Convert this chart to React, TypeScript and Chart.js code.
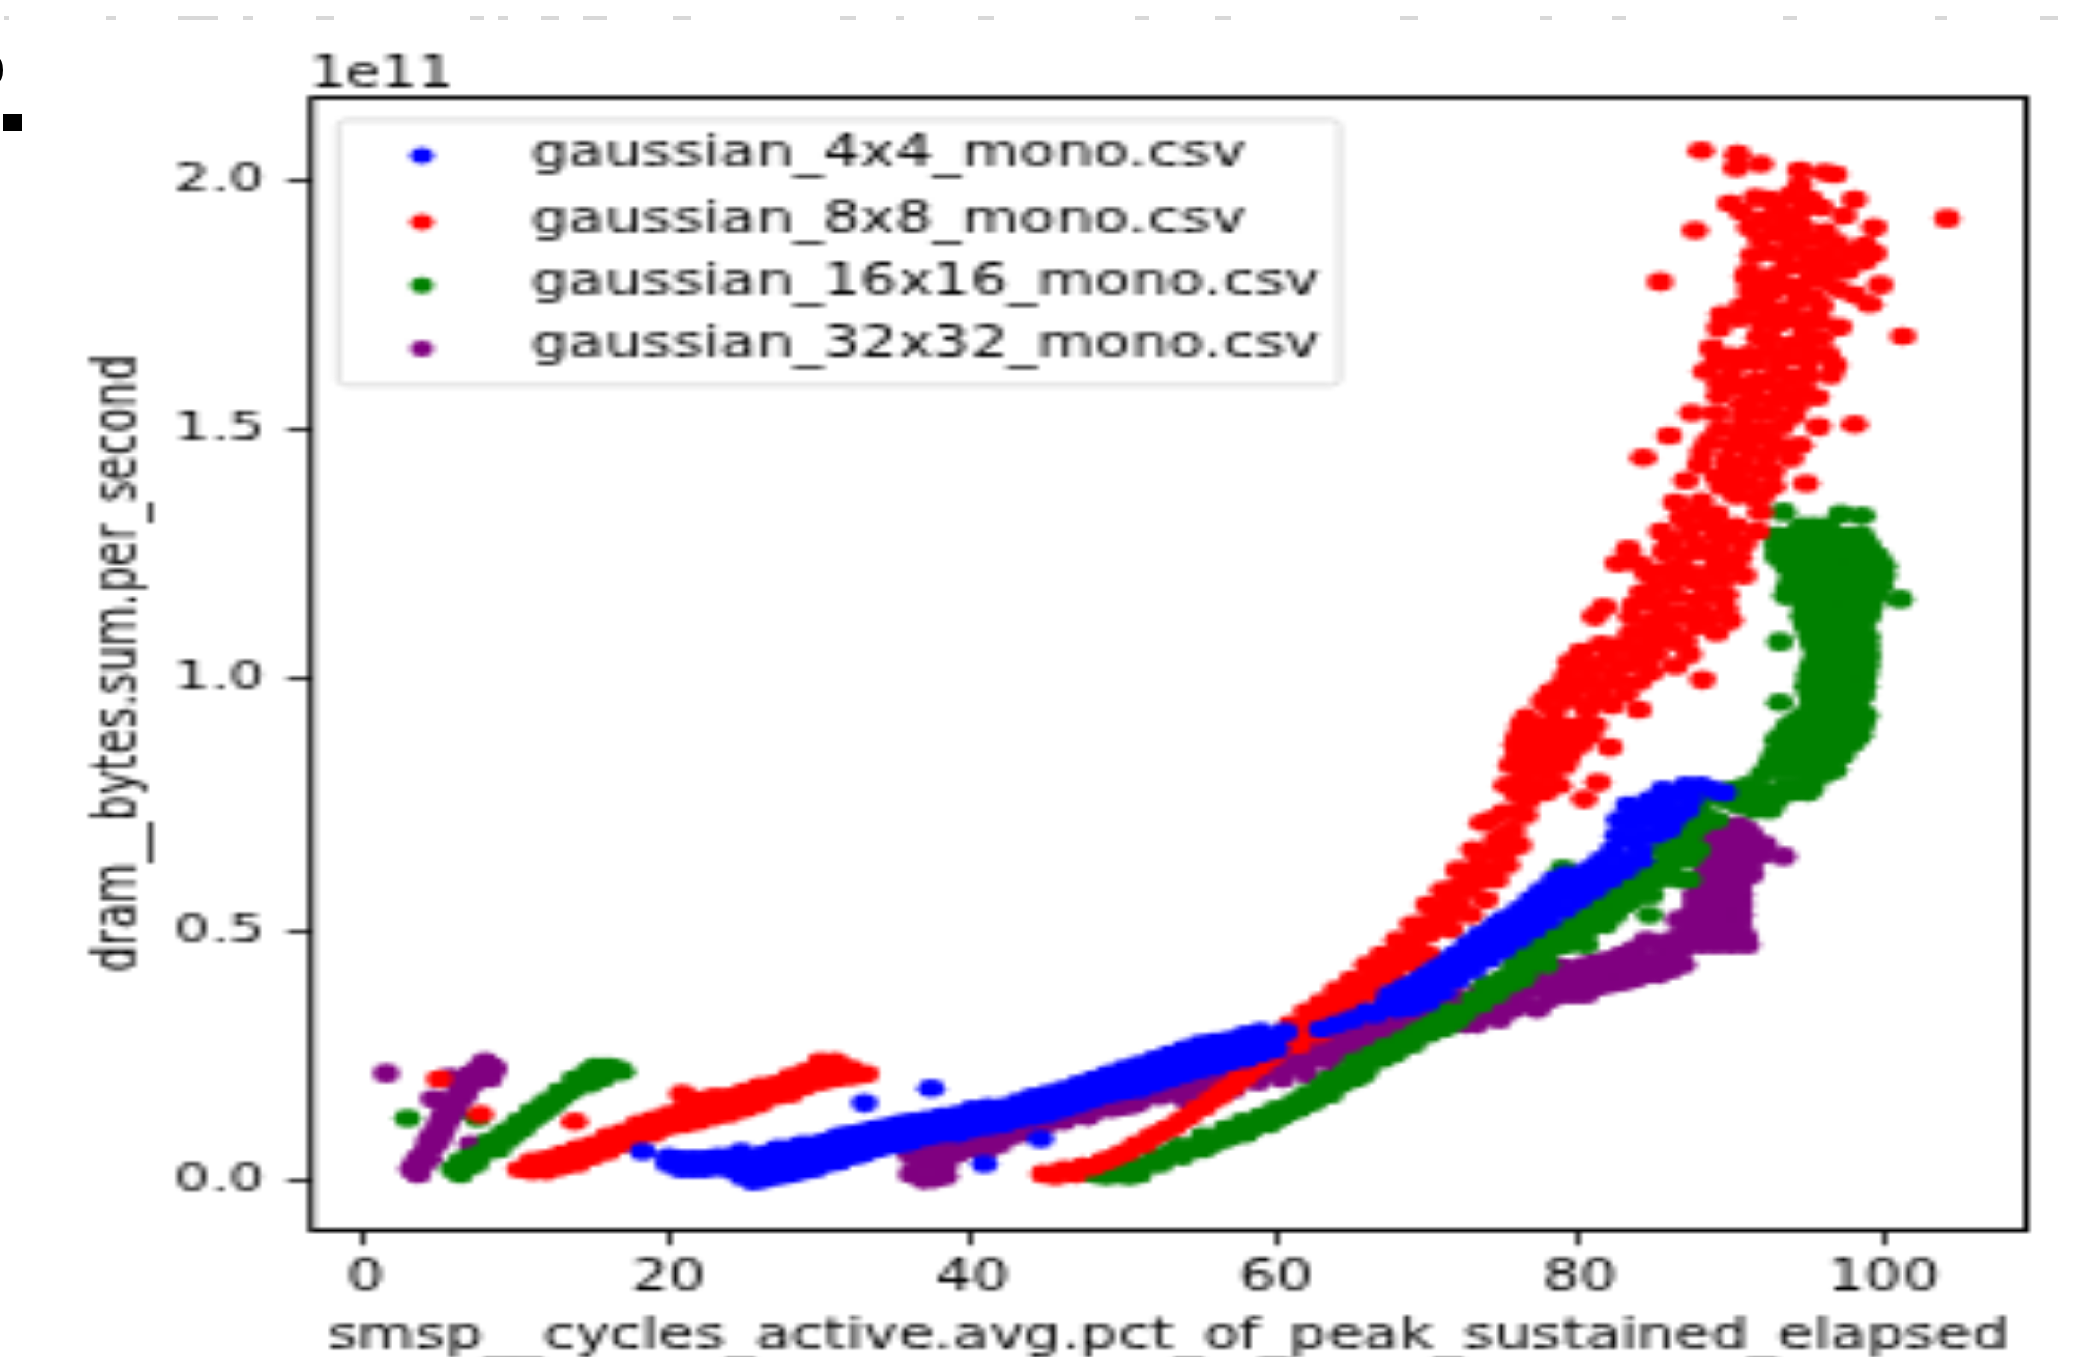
import React, { useEffect, useRef } from "react";
import { Chart, registerables } from "chart.js";

Chart.register(...registerables);

const legendLabels = ["gaussian_4x4_mono.csv", "gaussian_8x8_mono.csv", "gaussian_16x16_mono.csv", "gaussian_32x32_mono.csv"];
const seriesColors = ["#0000ff", "#ff0000", "#008000", "#800080"];
const xTitle = "smsp__cycles_active.avg.pct_of_peak_sustained_elapsed";
const yTitle = "dram__bytes.sum.per_second";
const offsetText = "1e11";

// flat x,y lists; y in units of 1e11
const blueLow = [20,.03,20,.045,20.8,.02,20.8,.04,21.6,.02,21.6,.04,22.4,.02,22.4,.04,23.2,.025,23.2,.045,24,.02,24,.045,24.8,.005,24.8,.03,24.8,.055,25.6,-.005,25.6,.015,25.6,.04,26.4,0,26.4,.02,26.4,.05,27.2,.005,27.2,.03,27.2,.06,28,.01,28,.035,28,.06,28.8,.015,28.8,.04,28.8,.07,29.6,.02,29.6,.045,29.6,.07,30.4,.03,30.4,.055,30.4,.075,31.2,.035,31.2,.06,31.2,.085,32,.045,32,.07,32,.09,32.8,.05,32.8,.075,32.8,.095,33.6,.06,33.6,.085,33.6,.1,34.4,.065,34.4,.09,34.4,.105,35.2,.07,35.2,.095,35.2,.11,36,.075,36,.1,36,.115,37,.085,37,.105,37,.12,38,.09,38,.11,38,.125,39,.09,39,.115,39,.13,40,.1,40,.12,40,.14,41,.105,41,.125,41,.145,42,.11,42,.13,42,.145,43,.12,43,.14,43,.155,44,.125,44,.145,44,.165,45,.13,45,.155,45,.17,46,.14,46,.16,46,.18,47,.15,47,.17,47,.19,48,.16,48,.18,48,.2,49,.17,49,.19,49,.21,50,.175,50,.2,50,.22,51,.18,51,.205,51,.23,52,.19,52,.215,52,.24,53,.2,53,.225,53,.25,54,.21,54,.235,54,.26,55,.22,55,.245,55,.27,56,.225,56,.25,56,.275,57,.235,57,.26,57,.28,58,.24,58,.265,58,.29,59,.25,59,.275,59,.295,60,.26,60,.285,60.6,.295];
const blueHigh = [63,.3,64,.31,65,.32,66,.335,66.5,.33,67.3,.35,68,.34,68,.37,68.8,.36,69,.39,69.8,.37,70,.41,70.6,.39,71,.43,71.5,.41,71.8,.45,72.3,.43,72.6,.47,73.2,.45,73.4,.49,74,.47,74.3,.5,75,.49,75,.52,75.8,.5,76,.54,76.7,.52,76.8,.56,77.4,.54,77.5,.58,78.2,.55,78.3,.6,79,.57,79.1,.61,79.7,.59,80,.61,80.5,.58,80.6,.62,81.3,.6,81.4,.64,82.2,.62,82.2,.66,83,.64,82.5,.69,83.3,.68,84,.66,82.6,.72,83.4,.71,84.3,.69,83.2,.75,84,.74,85,.72,85.8,.7,84.6,.76,85.6,.75,86.4,.73,85.5,.78,86.5,.77,87.3,.76,87,.79,88,.79,88.8,.78,89.5,.775];
const blueFill = [67.5,.37,68.5,.385,69.5,.4,70.5,.42,71.5,.44,72.5,.455,73.5,.47,74.5,.51,75.5,.52,76.5,.54,77.5,.56,78.5,.58,79.5,.6,80.5,.6,81,.62,69,.345,70,.355,71,.375,72,.4,73,.42,74,.44,75,.46,76,.48,77,.5,78,.52,79,.54,80,.56,81,.58,82,.6,83,.62,84,.64,85,.69,86,.71,87,.74,84,.72,85,.74,83.5,.73];
const blueStray = [18.3,.055,32.9,.152,37.3,.182,40.8,.03,44.5,.08];

const redLow = [10.2,.02,11,.015,11,.035,12,.015,12,.04,13,.025,13,.05,14,.03,14,.06,15,.045,15,.07,16,.055,16,.085,17,.07,17,.095,18,.085,18,.11,19,.09,19,.12,20,.105,20,.13,21,.11,21,.14,22,.115,22,.15,23,.125,23,.165,20.9,.17,21.5,.16,24,.13,24,.165,25,.14,25,.175,26,.15,26,.185,27,.165,27,.19,28,.17,28,.205,29,.185,29,.215,30,.195,30,.235,31,.2,31,.225,32,.205,32,.22,33,.21,30,.225,31,.235];
const redLowFill = [11.5,.025,12.5,.03,13.5,.04,14.5,.045,15.5,.06,16.5,.07,17.5,.085,18.5,.1,19.5,.105,20.5,.12,21.5,.125,22.5,.135,23.5,.145,24.5,.155,25.5,.16,26.5,.17,27.5,.18,28.5,.19,29.5,.2,30.5,.215];
const redStray = [27,.05,13.8,.115,4.9,.2,7.6,.13,88,2.064,90.4,2.056,90.3,2.028,91.9,2.036,94.5,2.024,96.1,2.02,96.8,2.016,104.2,1.927,87.6,1.903,85.3,1.8,101.3,1.691,95.7,1.509,98.1,1.514,85.9,1.491,84.2,1.448,94.9,1.395,88.1,1.001,99.4,1.909,99.8,1.794,99.1,1.755,97.1,1.709,98.1,1.965,97.4,1.933,82,.866,81.2,.795,80.3,.762,83.9,.942];
const redRise = [44.7,.01,45.5,.005,46,.02,46.8,.01,47.3,.025,48,.025,48.6,.035,49.2,.04,49.8,.05,50.3,.055,50.8,.07,51.3,.07,51.8,.085,52.3,.09,52.8,.1,53.3,.105,53.8,.12,54.3,.125,54.8,.14,55.3,.145,55.8,.16,56.3,.165,56.6,.18,57.2,.185,57.5,.2,58,.205,58.3,.22,58.9,.225,59.2,.24,59.7,.245,60,.26,60.6,.265,60.8,.285,61.3,.28,61.6,.3,62.1,.3,62.3,.32,62.9,.32,63.2,.34,63.7,.335,64,.36,64.6,.35,64.8,.375,65.3,.37,65.6,.39,66.1,.385,66.3,.41,66.9,.405,67,.43,67.7,.42,67.9,.445,68.5,.44,68.6,.465,69.2,.465,69.3,.49,70,.49,70,.515,70.8,.51,70.7,.54,71.5,.53,71.3,.56,72.1,.55,72,.585,72.8,.58,72.6,.61,73.5,.6,73.3,.63,74.2,.62,74,.655,74.8,.65,74.5,.68,73.6,.715,74.2,.72,75,.69,75.6,.7,75,.735,75.8,.735,76.4,.73,76.6,.76,75.9,.77,75.2,.79,76.2,.8,77,.79,77.7,.775,75.5,.83,76.3,.84,77.2,.82,78,.81,78.6,.79];
const redRiseFill = [59,.26,60,.28,61,.31,62,.335,63,.355,64,.38,65,.4,66,.43,67,.45,68,.48,69,.51,70,.55,71,.58,72,.62,73,.66,61.5,.27,62.8,.29,64,.32,65.3,.345,66.6,.37,67.8,.4,69,.43,70,.45,71.5,.5,72.8,.53,73.8,.56,74.5,.6,75.2,.63,75.3,.66,76,.67];
// each row: y, then the x values at that height
const redNeckRows = [[.83,76,77,78,79],[.85,75.9,77,78.2,79.3],[.87,75.8,76.8,77.8,79,80],[.89,76,77.2,78.4,79.6,80.6],[.91,76.2,77.5,78.8,80,81]];
const redCloudLow = [76.5,.926,78.3,.938,80.5,.942,82.1,.95,77.6,.958,79.6,.966,83,.973,78.1,.977,81.4,.982,83.9,.997,80.1,.993,82.1,1.009,79.2,1.013,84.7,1.017,80.5,1.025,86.3,1.029,83.4,1.033,79.4,1.037,85,1.053,81.9,1.049,87.2,1.053,80.1,1.057,83.2,1.069,86.3,1.077,81.4,1.073,84.5,1.085,89,1.096,83.4,1.096,85.9,1.1,87.6,1.108,84.5,1.112,89.9,1.12,88.5,1.124,86.7,1.132,83.4,1.128,81,1.128,81.6,1.148,89.6,1.144,85.2,1.148,83.6,1.152,87.6,1.16,86.3,1.168,89.6,1.172,84.1,1.176,88.1,1.192,86.3,1.2,89.4,1.203,90.8,1.211,84.5,1.215,87.2,1.215,86.3,1.227,90.1,1.231,83.9,1.235,82.5,1.235,89,1.243,90.5,1.247,87,1.251,85.6,1.259,83.2,1.263,89.2,1.267,87.6,1.275,90.8,1.275,89,1.291,85.4,1.299,87.2,1.299,91.7,1.299];
const redCloudLowFill = [79,.96,81,.96,78.8,.99,80.6,1,82.5,1,81,1.03,82.6,1.03,84.2,1.04,82.5,1.07,85,1.08,83.7,1.06,86.9,1.08,85,1.12,86.2,1.13,88,1.14,84.8,1.16,88.7,1.17,85,1.19,87.6,1.2,85.3,1.22,88.7,1.22,88,1.26,86,1.28,90,1.29];
const redCloudMid = [90.3,1.31,88.3,1.314,86.7,1.326,89,1.334,91.9,1.338,87.6,1.338,86.3,1.358,91.6,1.366,90.3,1.37,89.4,1.39,92.7,1.39,91.2,1.398,87,1.402,90.1,1.414,91.9,1.422,90.7,1.433,87.9,1.433,93.9,1.445,92.3,1.449,91.2,1.461,88.1,1.457,93.4,1.469,94.5,1.473,88.5,1.481,92.5,1.485,90.5,1.489,89.2,1.505,91.9,1.505,90.7,1.509,92.5,1.537,90.7,1.533,89,1.537,87.4,1.537,94.3,1.552,90.7,1.556,92.9,1.56,95.6,1.568,91.6,1.572,89.2,1.572,94.8,1.58,93.2,1.588,89.2,1.596,91.6,1.6,94.1,1.608,96.5,1.612,90,1.616,88.3,1.62,93,1.624,91.6,1.636,96.8,1.632,89,1.64,93.7,1.647,91.2,1.655,96.3,1.655,89.9,1.651,92.5,1.663,95,1.667,88.7,1.667,93.9,1.675,95.9,1.687,92.5,1.687,94.8,1.699];
const redCloudMidFill = [89,1.31,88,1.36,90.3,1.39,92,1.37,89,1.41,92.7,1.42,89.7,1.44,92.8,1.47,89.9,1.47,91.4,1.49,93.3,1.51,94,1.53,91.5,1.54,93.7,1.57,90.5,1.59,92.3,1.6,95,1.61,93,1.65,95,1.64,90.5,1.64,91.8,1.69];
const redCloudTop = [89.2,1.707,93,1.715,95.8,1.72,91.9,1.723,94.3,1.723,90.5,1.727,95.6,1.731,89.4,1.735,92.5,1.743,95.9,1.751,94.3,1.759,91.6,1.759,95.4,1.77,92.5,1.774,98.1,1.774,91.2,1.782,97,1.786,93.6,1.79,96.2,1.802,95.2,1.806,91,1.81,92.9,1.814,96.3,1.822,97.6,1.822,91.2,1.822,95.2,1.83,97,1.838,98.8,1.842,93.4,1.85,91.4,1.854,95,1.854,96.3,1.858,97.9,1.858,99.4,1.858,93.9,1.87,98.8,1.874,97,1.877,91.9,1.885,95.6,1.885,93.4,1.893,91.2,1.909,94.7,1.909,93.6,1.925,92.1,1.925,90.7,1.941,94.5,1.941,95.9,1.949,89.9,1.957,95.2,1.965,92.5,1.965,91.6,1.969,93.9,1.973,94.5,1.993];
const redCloudTopFill = [90.7,1.75,93.5,1.74,94.5,1.79,92.2,1.8,93.8,1.83,96,1.85,92.4,1.86,94.4,1.88,96.2,1.9,92.7,1.9,93,1.95];

const greenLow = [5.8,.02,6.3,.01,6.8,.025,7.3,.03,6.3,.035,6.9,.045,7.7,.05,8.2,.06,8.8,.06,8.2,.075,8.9,.08,9.5,.08,9.2,.095,9.9,.095,10.4,.1,10.1,.115,10.8,.115,11.3,.125,11,.135,11.7,.135,12.2,.145,11.9,.155,12.6,.155,13,.165,12.8,.175,13.5,.175,13.9,.185,13.8,.2,14.5,.2,14.8,.19,14.7,.215,15.4,.21,15.9,.21,15.2,.225,16,.225,16.6,.22,16.9,.215,15.6,.2];
const greenRise = [48,.01,48.8,.005,49.5,.01,50.3,.005,51,.01,48.9,.022,49.8,.025,50.8,.025,51.6,.03,52.4,.03,52,.045,53,.05,53.8,.045,53.5,.065,54.5,.065,55.2,.06,55.2,.085,56,.08,56.6,.08,56.7,.1,57.5,.095,58,.09,57.8,.115,58.6,.11,59,.125,59.8,.12,60,.14,60.8,.135,61.2,.155,62,.15,62,.17,62.8,.165,63,.185,63.6,.17,63.5,.2,64.3,.19,64.6,.215,65.2,.2,65.2,.235,66,.225,66.3,.25,67,.24,67.2,.265,68,.26,68.3,.28,69,.27,69.3,.295,70,.29,70.2,.31,71,.3,71.4,.335,72,.32,73,.36,74,.375,75,.39,73.8,.39,75.6,.42,76.4,.41,77,.435,77.8,.43,76.2,.45,77.2,.47,78,.46,78.8,.47,79,.47,79.8,.48,80.4,.47,78.5,.5,79.5,.51,80.5,.5,81,.53,81.7,.51,82.3,.53,80.5,.53,81.5,.56,82.3,.56,83,.55,83.5,.56,84,.58,84.7,.57,84.6,.53,82.5,.585,83.5,.6,84.5,.6,85.2,.6,84.3,.63,85.2,.63,86,.62,86.6,.6,87.2,.6,85.5,.66,86.4,.65,87.2,.64,86.3,.69,87.2,.68,87.8,.66,87,.72,88,.71,88,.74,89,.72,87.5,.75,88.5,.77,89.5,.76,90.5,.75,91.5,.74,92.5,.74,93,.76,92,.78,91,.79,90,.78,93.5,.79,94.5,.79,95.3,.785,92,.81,93,.82,94,.82,95,.81,96,.81,96.8,.82,92.8,.85,93.7,.85,94.7,.84,95.7,.84,96.8,.85,97.6,.87,93,.88,94,.87,95.2,.87,96.3,.88,97.4,.89,98.4,.89,93.8,.91,94.8,.9,96,.91,97,.91,98,.92,98.8,.93,94.8,.93,96,.94,97,.94,98,.95];
const greenFill = [71.5,.31,72.5,.335,73.5,.35,74.5,.37,75.4,.39,76.2,.4,74.8,.4,75.8,.43,76.8,.44,77.5,.45,78,.48,79,.49,80,.5,80,.52,81,.55,82,.57,81,.51,82.5,.55,83,.58,83.8,.6,84.8,.62,85.8,.64,86.8,.67,87.5,.7,85.5,.62,52.5,.045,54,.055,55.8,.07,57,.085,58.3,.1,59.5,.11,60.4,.125,61.5,.14,62.5,.155,63.3,.17,64.8,.2,65.8,.21,66.8,.25,67.8,.25,68.8,.28,69.8,.3,70.8,.32,93.5,.835,94.5,.83,95.5,.825,96.5,.835,97.3,.85,92.5,.83,93.3,.865,94.5,.855,95.5,.855,96.5,.865,97.2,.875,98,.875,93.5,.895,94.5,.885,95.7,.89,96.7,.895,97.8,.905,98.6,.91,94.3,.92,95.5,.915,96.5,.925,97.5,.93,98.4,.935,95.3,.95,96.5,.955,97.5,.96,98.3,.965,91,.76,92,.76,93,.775,94,.775,95,.775,90.5,.77];
const greenColumnRows = [
  [.97,95.2,96,96.8,97.8,98.6],[.99,95,95.8,96.6,97.5,98.7],[1.01,95.1,96,96.8,97.6,98.8],[1.03,95.3,96.1,97,98,98.9],[1.05,95.6,96.3,97.2,98.2,99],[1.07,95.4,96.2,97,98,98.9],[1.09,95.2,96.2,97.2,98.2,98.9],[1.11,94.9,95.8,96.6,97.6,98.6],[1.13,94.7,95.6,96.4,97.4,98.6,99],[1.15,94.8,95.5,96.4,97.6,98.8,99.2],[1.17,93.6,94.4,95.4,96.4,97.4,98.6,99.5],[1.19,93.8,94.8,95.8,96.8,98,99,99.8],[1.21,94,95,96,97.2,98.4,99.4,100],[1.23,93.6,94.6,95.7,96.7,98,99.2,100],[1.25,93,94.2,95.4,96.5,97.7,98.8,99.6],[1.27,93,93.8,94.8,96,97.2,98.2,99],[1.29,93,93.9,94.8,95.8,97,97.9,98.6],[1.31,94.6,95.4,96.3]
];
const greenStray = [2.8,.122,7.4,.122,93.4,1.338,97.2,1.334,98.6,1.33,101.1,1.163,93.2,1.078,93.2,.956,67.9,.445,78.9,.623];

const purpleLow = [3.1,.02,3.5,.01,3.8,.03,3.5,.04,4,.055,4.2,.04,4.2,.075,4.5,.065,4.5,.09,4.9,.08,4.9,.11,5.2,.1,5.2,.13,5.5,.12,5.5,.145,5.9,.135,5.9,.16,6.2,.155,6.2,.18,6.6,.17,6.7,.195,7,.19,7,.21,7.4,.2,7.5,.22,7.9,.21,7.9,.235,8.3,.225,8.5,.22,8.2,.2];
const purpleStray = [1.4,.212,5.6,.205,4.5,.16,7,.07,93.4,.647];
const purpleBand = [35,.07,35.8,.06,35.8,.08,36.5,.06,36.5,.08,36,.01,36.8,-.002,37.5,0,38.2,.005,36.8,.03,37.5,.03,38.2,.025,37.6,.055,38.4,.05,37.4,.075,38.3,.075,39,.07,39.2,.09,40,.075,40,.095,40.8,.08,40.8,.1,41.5,.075,41.5,.105,42.2,.085,42.2,.11,43,.09,43,.115,43.7,.1,43.7,.125,44.5,.105,44.5,.13,45.2,.115,45.2,.14,46,.12,46,.145,46.8,.13,46.8,.15,47.6,.13,47.6,.155,48.4,.14,48.4,.16,49.2,.145,49.2,.175,50,.145,50,.17,50.8,.155,50.8,.18,51.6,.165,51.6,.19,52.4,.17,52.4,.195,53.2,.175,53.2,.205,54,.18,54,.205,54.8,.185,54.8,.21,55.6,.19,55.6,.215,56.4,.195,56.4,.22,57.2,.205,57.2,.23,58,.215,58,.235,58.8,.22,58.8,.245,59.6,.215,59.6,.24,60.4,.22,60.4,.245,61.2,.225,61.2,.255,62,.23,62,.26,62.8,.245,62.8,.275,63.6,.255,63.6,.285,64.4,.27,64.4,.3,65.2,.28,65.2,.31,66,.285,66,.315,66.8,.29,66.8,.32,67.6,.285,67.6,.33,68.4,.29,68.4,.33,69.2,.3,69.2,.34,70,.315,70,.345,70.8,.325,70.8,.35,71.6,.34,71.6,.36,72.4,.325,72.4,.35,73.2,.33,73.2,.36,74,.33,74,.36,74.8,.33,74.8,.36,75.6,.34,75.6,.37,76.4,.35,76.4,.38,77.2,.34,77.2,.38,77.2,.41,78,.36,78,.39,78,.43,78.8,.37,78.8,.4,78.8,.425,79.6,.37,79.6,.4,79.6,.42,80.4,.37,80.4,.4,80.4,.43,81.2,.385,81.2,.415,81.2,.435,82,.39,82,.42,82,.44,82.8,.395,82.8,.425,82.8,.45,83.6,.4,83.6,.43,83.6,.46,84.4,.41,84.4,.44,84.4,.48,85.2,.41,85.2,.44,85.2,.47,86,.42,86,.45,86,.48,86.8,.43,86.8,.46,86.8,.49,86.5,.52];
const purpleUnder = [39,.05,40,.06,41,.06,41.8,.07,36,.045,37,.05,43,.09,44.5,.1,46,.115,47.6,.125,49.2,.14,50.8,.15,52.4,.165,54,.16,55.6,.17,57.2,.18,58.8,.195,60.4,.2,62,.21,63.6,.235,65.2,.26,66.8,.27,68.4,.27,70,.295,72.4,.31,73.2,.31,74.7,.32];
const purpleOver = [47,.165,48.5,.175,50,.185,51.5,.2,53,.21,60,.23,61,.24,62,.245,63,.26,64,.285,65,.295,66,.3,67,.305,68,.31,69,.32,70,.33,71,.345,72,.34,73,.345,74,.345,64,.25,65,.265,66,.27,67.4,.26,69,.28,66,.33,67,.34,68,.35,69,.355,70,.36,72,.365,73.5,.375];
const purpleColumnRows = [
  [.47,88,89,90,91],[.49,87.8,88.8,89.8,90.8],[.51,87.5,88.5,89.5,90.5],[.53,87.3,88.3,89.3,90.6],[.55,87.6,88.6,89.6,90.6],[.57,87.6,88.5,89.5,90.6],[.59,87.9,88.9,89.8,90.5],[.61,88.3,89.2,90.2,91.3],[.63,88.3,89.2,90.2,91.2],[.65,88.2,89.1,90,91,92],[.67,88.2,89.1,90,91,92.2],[.69,88.3,89.3,90.3,91.3],[.7,89,90,91],[.71,89.5,90.5]
];

// torn remains of neighbouring content along the top edge of the crop
const topScraps = [[4,5],[106,10],[178,40],[243,10],[316,18],[470,14],[498,10],[541,18],[583,24],[673,18],[840,16],[896,8],[978,16],[1135,14],[1215,16],[1400,18],[1540,12],[1612,14],[1783,14],[1935,12],[2040,18]];

const fromPairs = (flat: number[]) => {
  const out: { x: number; y: number }[] = [];
  for (let i = 0; i < flat.length; i += 2) out.push({ x: flat[i], y: flat[i + 1] });
  return out;
};
const fromRows = (rows: number[][]) => rows.flatMap(([y, ...xs]) => xs.map((x) => ({ x, y })));

const seriesPoints = [
  [...fromPairs(blueLow), ...fromPairs(blueHigh), ...fromPairs(blueFill), ...fromPairs(blueStray)],
  [...fromPairs(redLow), ...fromPairs(redLowFill), ...fromPairs(redRise), ...fromPairs(redRiseFill), ...fromRows(redNeckRows), ...fromPairs(redCloudLow), ...fromPairs(redCloudLowFill), ...fromPairs(redCloudMid), ...fromPairs(redCloudMidFill), ...fromPairs(redCloudTop), ...fromPairs(redCloudTopFill), ...fromPairs(redStray)],
  [...fromPairs(greenLow), ...fromPairs(greenRise), ...fromPairs(greenFill), ...fromRows(greenColumnRows), ...fromPairs(greenStray)],
  [...fromPairs(purpleLow), ...fromPairs(purpleBand), ...fromPairs(purpleUnder), ...fromPairs(purpleOver), ...fromRows(purpleColumnRows), ...fromPairs(purpleStray)],
];

const FONT = '"DejaVu Sans"';
const CANVAS_W = 355;
const CANVAS_H = 328;

const framePlugin = {
  id: "frame",
  afterDatasetsDraw(chart: any) {
    const { ctx, chartArea: a } = chart;
    ctx.save();
    ctx.strokeStyle = "#000";
    ctx.lineWidth = 1;
    const top = Math.floor(a.top) + 0.5;
    const bottom = Math.floor(a.bottom) + 0.5;
    const right = Math.floor(a.right) + 0.5;
    ctx.strokeRect(a.left, top, right - a.left, bottom - top);
    // offset text of the y axis
    ctx.fillStyle = "#000";
    ctx.font = `9.7px ${FONT}`;
    ctx.textAlign = "left";
    ctx.textBaseline = "middle";
    ctx.fillText(offsetText, a.left - 0.3, 18);
    // legend
    ctx.fillStyle = "rgba(255,255,255,0.8)";
    ctx.strokeStyle = "#d4d4d4";
    ctx.lineWidth = 0.8;
    ctx.beginPath();
    ctx.roundRect(57.3, 28.9, 169.8, 63.9, 1.5);
    ctx.fill();
    ctx.stroke();
    const rows = [37.2, 53.2, 68.3, 83.6];
    chart.data.datasets.forEach((d: any, i: number) => {
      ctx.fillStyle = d.backgroundColor;
      ctx.beginPath();
      ctx.arc(71.5, rows[i] + 0.4, 2, 0, Math.PI * 2);
      ctx.fill();
      ctx.fillStyle = "#000";
      ctx.font = `10px ${FONT}`;
      ctx.fillText(d.label, 90, rows[i]);
    });
    ctx.restore();
  },
};

export default function App() {
  const ref = useRef<HTMLCanvasElement>(null);
  useEffect(() => {
    const chart = new Chart(ref.current as HTMLCanvasElement, {
      type: "scatter",
      data: {
        datasets: legendLabels.map((label, i) => ({
          label,
          data: seriesPoints[i],
          backgroundColor: seriesColors[i],
          borderColor: seriesColors[i],
          borderWidth: 0,
          pointRadius: 2.3,
          pointHoverRadius: 2.3,
        })),
      },
      options: {
        animation: false,
        responsive: false,
        devicePixelRatio: 1,
        events: [],
        layout: { padding: { top: 23.6, right: 11.8, left: 0, bottom: 0 } },
        plugins: { legend: { display: false }, tooltip: { enabled: false }, title: { display: false } },
        scales: {
          x: {
            type: "linear",
            min: -3.55,
            max: 109.3,
            afterFit: (s: any) => { s.height = 31.9; },
            border: { display: false },
            grid: { drawOnChartArea: false, drawTicks: true, tickLength: 4, tickColor: "#000", tickWidth: 0.8 },
            ticks: { stepSize: 20, includeBounds: false, color: "#000", padding: 2, maxRotation: 0, font: { family: FONT, size: 10 } },
            title: { display: true, text: xTitle, color: "#000", padding: 0, font: { family: FONT, size: 10 } },
          },
          y: {
            type: "linear",
            min: -0.1,
            max: 2.169,
            afterFit: (s: any) => { s.width = 52.7; },
            border: { display: false },
            grid: { drawOnChartArea: false, drawTicks: true, tickLength: 4, tickColor: "#000", tickWidth: 0.8 },
            ticks: { stepSize: 0.5, includeBounds: false, color: "#000", padding: 4, font: { family: FONT, size: 9.5 }, callback: (v: any) => Number(v).toFixed(1) },
            title: { display: true, text: yTitle, color: "#000", padding: { top: 14.5, bottom: 0 }, font: { family: FONT, size: 10 } },
          },
        },
      },
      plugins: [framePlugin],
    } as any);
    return () => chart.destroy();
  }, []);

  return (
    <div style={{ position: "absolute", left: 0, top: 0, width: 2094, height: 1357, overflow: "hidden", background: "#fff" }}>
      <canvas ref={ref} width={CANVAS_W} height={CANVAS_H} style={{ display: "block", width: 2094, height: 1361.15 }} />
      {topScraps.map(([x, w], i) => (
        <div key={i} style={{ position: "absolute", left: x, top: 16, width: w, height: 4, background: "#d8d8d8" }} />
      ))}
      <div style={{ position: "absolute", left: 3, top: 114, width: 19, height: 17, background: "#000" }} />
      <div style={{ position: "absolute", left: -7, top: 58, width: 10, height: 24, boxSizing: "border-box", borderRight: "3px solid #000", borderRadius: "50%" }} />
    </div>
  );
}
